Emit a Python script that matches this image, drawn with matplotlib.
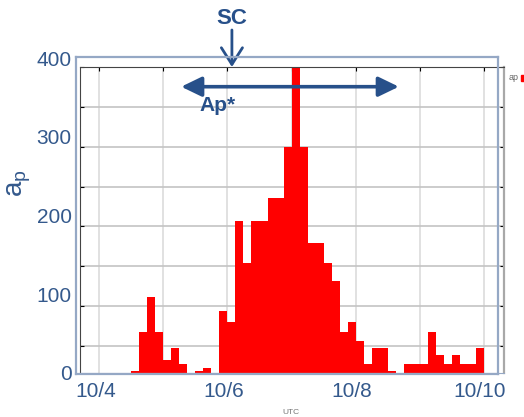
import numpy as np
import matplotlib.pyplot as plt

plt.rcParams['font.family'] = ['Liberation Sans', 'DejaVu Sans']
plt.rcParams['mathtext.fontset'] = 'custom'
plt.rcParams['mathtext.rm'] = 'Liberation Sans'
plt.rcParams['mathtext.it'] = 'Liberation Sans'

# 3-hourly ap index, starting 10/4 00 UT (8 values per day)
ap = [7, 5, 6, 9, 18, 67, 111, 67,
      32, 48, 27, 12, 18, 22, 9, 94,
      80, 207, 154, 207, 207, 236, 236, 300,
      400, 300, 179, 179, 154, 132, 67, 80,
      56, 27, 48, 48, 18, 12, 27, 27,
      27, 67, 39, 27, 39, 27, 27, 48]
t = np.arange(len(ap)) / 8  # days since 10/4 00 UT

grid_days = [0, 1, 2, 3, 4, 5, 6]
label_days = [0, 2, 4, 6]
day_labels = ['10/4', '10/6', '10/8', '10/10']
inner_yticks = [50, 100, 150, 200, 250, 300, 350, 400]
outer_yticks = [0, 100, 200, 300, 400]

# annotation times (days since 10/4)
sc_day = 2.07
ap_star_start = 1.28
ap_star_end = 4.67

blue = '#27508A'
label_blue = '#34598C'
frame = '#95A8C5'

fig = plt.figure(figsize=(5.24, 4.17), dpi=100)

# inner plot (the pasted ap chart)
ax = fig.add_axes([80 / 524, 44 / 417, 423.5 / 524, 306 / 417])
ax.bar(t, ap, width=1 / 8, align='edge', color='#FF0000', linewidth=0, zorder=2)
ax.set_xlim(-0.296, 6.30)
ax.set_ylim(16, 400)
ax.set_xticks(grid_days)
ax.set_yticks(inner_yticks)
ax.xaxis.grid(color='#DCDCDC', lw=1.2)
ax.yaxis.grid(color='#C4C4C4', lw=1.2)
ax.set_axisbelow(True)
ax.tick_params(labelleft=False, labelbottom=False, bottom=False,
               top=True, right=True, direction='in', length=3, width=0.8)
ax.spines['left'].set_color('#444444')
ax.spines['top'].set_color('#444444')
ax.spines['right'].set_color('#A8A8A8')
ax.spines['right'].set_linewidth(1.6)
ax.spines['bottom'].set_color(frame)

# SC arrow and label
ax.annotate('', xy=(sc_day, 1.0), xytext=(sc_day, 1.121),
            xycoords=('data', 'axes fraction'), textcoords=('data', 'axes fraction'),
            arrowprops=dict(arrowstyle='->, head_length=0.6, head_width=0.38',
                            mutation_scale=20, lw=2, color=blue,
                            shrinkA=0, shrinkB=0), annotation_clip=False)
ax.text(sc_day, 1.16, 'SC', transform=ax.get_xaxis_transform(), ha='center',
        va='center', fontsize=16, fontweight='bold', color=blue)

# Ap* double arrow and label
ax.annotate('', xy=(ap_star_end, 0.9356), xytext=(ap_star_start, 0.9356),
            xycoords=('data', 'axes fraction'), textcoords=('data', 'axes fraction'),
            arrowprops=dict(arrowstyle='<|-|>, head_length=0.62, head_width=0.3',
                            mutation_scale=20, lw=2.6, color=blue,
                            shrinkA=0, shrinkB=0), annotation_clip=False)
ax.text(1.84, 0.874, 'Ap*', transform=ax.get_xaxis_transform(), ha='center',
        va='center', fontsize=15, fontweight='bold', color=blue)

# outer frame with the big axis labels
ox = fig.add_axes([76 / 524, 43 / 417, 422 / 524, 317 / 417])
ox.patch.set_alpha(0)
ox.set_xlim(-0.313, 6.29)
ox.set_ylim(-1.3, 401.3)
ox.set_xticks(label_days, labels=day_labels)
ox.set_yticks(outer_yticks)
ox.tick_params(length=0, labelsize=15, labelcolor=label_blue)
ox.tick_params(axis='y', pad=3)
ox.tick_params(axis='x', pad=6)
for s in ox.spines.values():
    s.set_color(frame)
    s.set_linewidth(1.6)

fig.text(19 / 524, 1 - 183 / 417, r'$\mathregular{a_p}$', rotation=90,
         ha='center', va='center', fontsize=20, color=label_blue)

# small legend and axis title of the pasted chart
fig.text(509 / 524, 1 - 78 / 417, 'ap', fontsize=6.5, color='#666666',
         va='center', ha='left')
fig.patches.append(plt.Rectangle((521 / 524, 1 - 81 / 417), 4 / 524, 6 / 417,
                                 transform=fig.transFigure, color='#FF0000'))
fig.text(291 / 524, 1 - 413 / 417, 'UTC', fontsize=6, color='#777777',
         ha='center', va='center')

fig.savefig('out.png', dpi=100)
